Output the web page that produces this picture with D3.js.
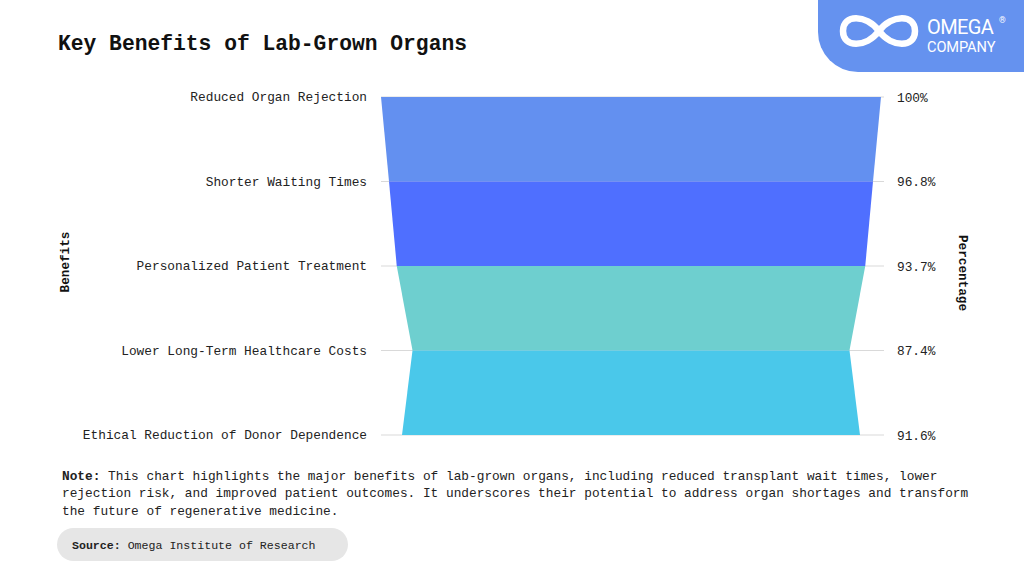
<!DOCTYPE html>
<html><head><meta charset="utf-8">
<script src="https://cdn.jsdelivr.net/npm/d3@7"></script>
<style>
html,body{margin:0;padding:0;background:#fff;}
svg{display:block;}
</style></head>
<body>
<svg id="chart" width="1024" height="576"></svg>
<script>
const categories = ["Reduced Organ Rejection","Shorter Waiting Times","Personalized Patient Treatment","Lower Long-Term Healthcare Costs","Ethical Reduction of Donor Dependence"];
const values = [100, 96.8, 93.7, 87.4, 91.6];
const valueLabels = ["100%","96.8%","93.7%","87.4%","91.6%"];
const colors = ["#6390F0","#4F6FFF","#6ECFCF","#4AC8EA"];

const mono = "'Liberation Mono','DejaVu Sans Mono',monospace";
const svg = d3.select("#chart");

// title
svg.append("text").attr("x",58).attr("y",50).attr("font-family",mono).attr("font-weight","bold")
  .attr("font-size",21.3).attr("fill","#111").text("Key Benefits of Lab-Grown Organs");

// logo
svg.append("path").attr("d","M818,0 H1024 V72 H858 A40,40 0 0 1 818,32 Z").attr("fill","#6592EF");
(function(){const cx=879,cy=31;
svg.append("path").attr("d",`M${cx},${cy} C${cx+13},${cy-17} ${cx+36},${cy-17} ${cx+36},${cy} C${cx+36},${cy+17} ${cx+13},${cy+17} ${cx},${cy} C${cx-13},${cy-17} ${cx-36},${cy-17} ${cx-36},${cy} C${cx-36},${cy+17} ${cx-13},${cy+17} ${cx},${cy} Z`)
  .attr("fill","none").attr("stroke","#fff").attr("stroke-width",6.5);})();
const logoT = svg.append("text").attr("font-family","Roboto,Arial,sans-serif").attr("fill","#fff");
logoT.append("tspan").attr("x",927).attr("y",34).attr("font-size",20).attr("letter-spacing",-0.6).text("OMEGA");
logoT.append("tspan").attr("x",999).attr("y",23).attr("font-size",8.5).text("®");
svg.append("text").attr("font-family","Roboto,Arial,sans-serif").attr("fill","#fff")
  .attr("x",927).attr("y",52).attr("font-size",14.6).attr("letter-spacing",-0.1).text("COMPANY");

// scales
const y = d3.scalePoint().domain(categories).range([97,435]);
const cx = 631;
const hw = d3.scaleLinear().domain([0,100]).range([0,250]);
const gridX = [381,884];

// gridlines
svg.append("g").selectAll("line").data(categories).join("line")
  .attr("x1",gridX[0]).attr("x2",gridX[1]).attr("y1",d=>y(d)).attr("y2",d=>y(d))
  .attr("stroke","#d9d9d9").attr("stroke-width",1);

// funnel segments
const segs = d3.range(values.length-1).map(i=>({i, y0:y(categories[i]), y1:y(categories[i+1]), v0:values[i], v1:values[i+1]}));
const line = d3.line();
svg.append("g").selectAll("path").data(segs).join("path")
  .attr("d",s=>line([[cx-hw(s.v0),s.y0],[cx+hw(s.v0),s.y0],[cx+hw(s.v1),s.y1],[cx-hw(s.v1),s.y1]])+"Z")
  .attr("fill",(s)=>colors[s.i]);

// left axis labels
const leftAxis = d3.axisLeft(y).tickSize(0).tickPadding(0);
const gl = svg.append("g").attr("transform","translate(367,0)").call(leftAxis);
gl.select(".domain").remove();
gl.selectAll("text").attr("font-family",mono).attr("font-size",12.8).attr("fill","#222").attr("dy","0.3em");

// right axis labels
const yr = d3.scalePoint().domain(valueLabels).range([97,435]);
const rightAxis = d3.axisRight(yr).tickSize(0).tickPadding(0);
const gr = svg.append("g").attr("transform","translate(897,0)").call(rightAxis);
gr.select(".domain").remove();
gr.selectAll("text").attr("font-family",mono).attr("font-size",12.8).attr("fill","#222").attr("dy","0.35em");

// axis titles
svg.append("text").attr("transform","translate(69,262) rotate(-90)").attr("text-anchor","middle")
  .attr("font-family",mono).attr("font-weight","bold").attr("font-size",12.7).attr("fill","#111").text("Benefits");
svg.append("text").attr("transform","translate(959,273) rotate(90)").attr("text-anchor","middle")
  .attr("font-family",mono).attr("font-weight","bold").attr("font-size",12.7).attr("fill","#111").text("Percentage");

// note
const noteLines = [
  ["Note:"," This chart highlights the major benefits of lab-grown organs, including reduced transplant wait times, lower"],
  [""," rejection risk, and improved patient outcomes. It underscores their potential to address organ shortages and transform"],
  [""," the future of regenerative medicine."]
];
noteLines.forEach((l,i)=>{
  const t = svg.append("text").attr("x",62).attr("y",480+i*17.3).attr("font-family",mono).attr("font-size",12.8).attr("fill","#222").attr("xml:space","preserve");
  if(l[0]) t.append("tspan").attr("font-weight","bold").text(l[0]);
  t.append("tspan").text(i===0?l[1]:l[1].slice(1));
});

// source pill
svg.append("rect").attr("x",57).attr("y",528).attr("width",291).attr("height",33).attr("rx",16.5).attr("fill","#e6e6e6");
const st = svg.append("text").attr("x",72).attr("y",549).attr("font-family",mono).attr("font-size",11.6).attr("fill","#222");
st.append("tspan").attr("font-weight","bold").text("Source:");
st.append("tspan").text(" Omega Institute of Research");
</script>
</body></html>
